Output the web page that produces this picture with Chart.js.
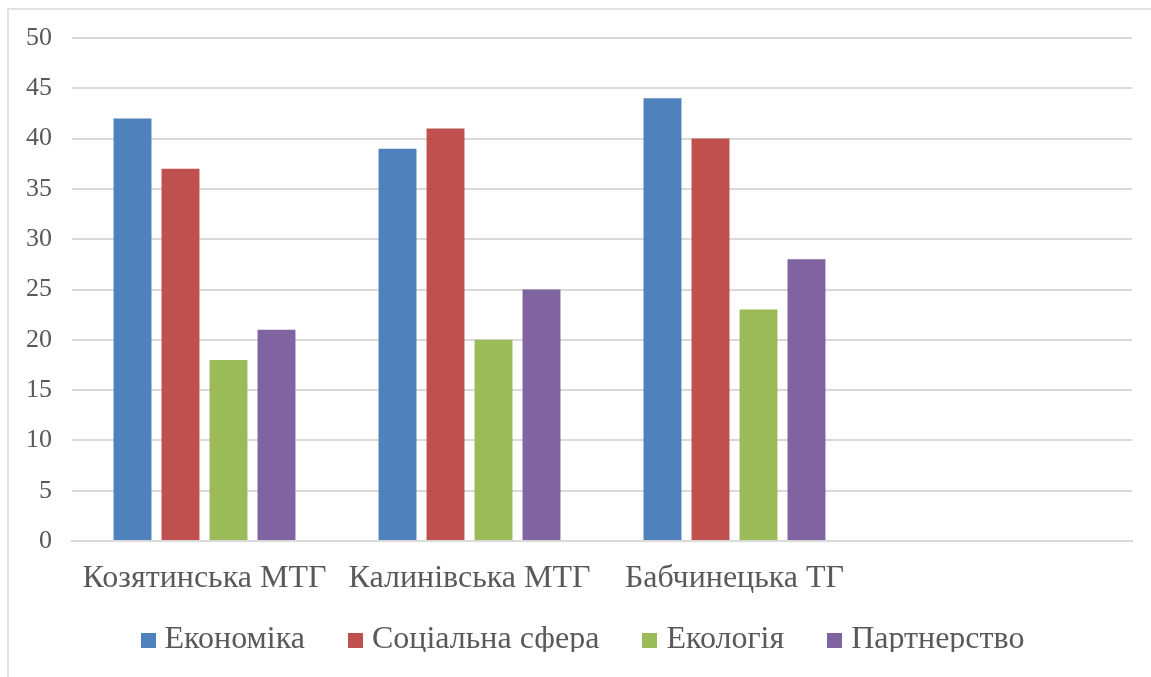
<!DOCTYPE html>
<html>
<head>
<meta charset="utf-8">
<script src="https://cdn.jsdelivr.net/npm/chart.js@4.4.1/dist/chart.umd.min.js"></script>
<style>
  html, body { margin: 0; padding: 0; background: #ffffff; overflow: hidden; }
  #frame { position: absolute; left: 7px; top: 8px; width: 2000px; height: 2000px; border: 2px solid #e3e3e3; box-sizing: border-box; }
  #c { position: absolute; left: 0; top: 0; }
</style>
</head>
<body>
<div id="frame"></div>
<canvas id="c" width="1151" height="677"></canvas>
<script>
const categories = ["Козятинська МТГ", "Калинівська МТГ", "Бабчинецька ТГ", ""];
const seriesNames = ["Економіка", "Соціальна сфера", "Екологія", "Партнерство"];
const economy = [42, 39, 44, null];
const social = [37, 41, 40, null];
const ecology = [18, 20, 23, null];
const partnership = [21, 25, 28, null];
const yTicks = [0, 5, 10, 15, 20, 25, 30, 35, 40, 45, 50];

const colors = ["#4F81BD", "#C0504D", "#9BBB59", "#8064A2"];
const seriesData = [economy, social, ecology, partnership];
const textColor = "#595959";
const serif = "'Liberation Serif', 'Times New Roman', serif";

const datasets = seriesNames.map((name, i) => ({
  label: name,
  data: seriesData[i],
  backgroundColor: colors[i],
  borderWidth: 0,
  categoryPercentage: 0.7245,
  barPercentage: 0.79
}));

// square legend markers
const markers = colors.map(c => {
  const cv = document.createElement("canvas");
  cv.width = 15; cv.height = 15;
  const g = cv.getContext("2d");
  g.fillStyle = c;
  g.fillRect(0, 0, 15, 15);
  return cv;
});

// nudge the legend row into place after layout
const legendShift = {
  id: "legendShift",
  afterLayout(chart) {
    const lg = chart.legend;
    if (lg) {
      lg.top -= 24; lg.bottom -= 24;
      lg.left += 20; lg.right += 20;
    }
  }
};

new Chart(document.getElementById("c"), {
  type: "bar",
  data: { labels: categories, datasets: datasets },
  plugins: [legendShift],
  options: {
    responsive: false,
    animation: false,
    devicePixelRatio: 1,
    layout: { padding: { left: 0, right: 19, top: 38, bottom: 1 } },
    plugins: {
      tooltip: { enabled: false },
      legend: {
        position: "bottom",
        maxHeight: 78,
        labels: {
          usePointStyle: true,
          pointStyleWidth: 1,
          boxHeight: 15,
          padding: 50,
          color: textColor,
          font: { family: serif, size: 32 },
          generateLabels: (chart) =>
            Chart.defaults.plugins.legend.labels.generateLabels(chart)
              .map((it, i) => Object.assign(it, { pointStyle: markers[i] }))
        }
      }
    },
    scales: {
      x: {
        grid: { display: false, drawTicks: false },
        border: { display: true, color: "#d9d9d9", width: 2 },
        ticks: {
          color: textColor,
          font: { family: serif, size: 32, lineHeight: 1.1 },
          padding: 20,
          maxRotation: 0,
          autoSkip: false
        },
        afterFit: (s) => { s.height = 57; }
      },
      y: {
        min: 0,
        max: 50,
        afterBuildTicks: (s) => { s.ticks = yTicks.map(v => ({ value: v })); },
        grid: { color: "#d9d9d9", lineWidth: 2, drawTicks: false },
        border: { display: false },
        ticks: {
          color: textColor,
          font: { family: serif, size: 26 },
          padding: 20
        },
        afterFit: (s) => { s.width = 72; }
      }
    }
  }
});
</script>
</body>
</html>
